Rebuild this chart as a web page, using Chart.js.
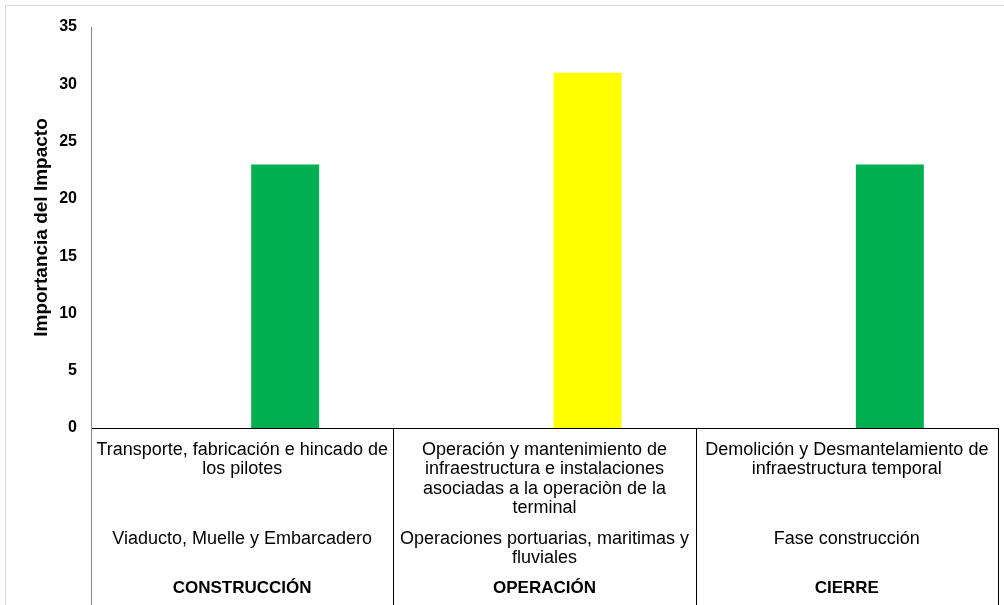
<!DOCTYPE html>
<html lang="es">
<head>
<meta charset="utf-8">
<title>Importancia del Impacto</title>
<script src="https://cdn.jsdelivr.net/npm/chart.js@4.4.1/dist/chart.umd.min.js"></script>
<style>
  html, body { margin: 0; padding: 0; background: #fff; }
  #chart { display: block; }
</style>
</head>
<body>
<canvas id="chart" width="1004" height="605"></canvas>
<script>
// Activities (first row under the axis), one array of lines per bar
const activityLabels = [
  ['Transporte, fabricación e hincado de', 'los pilotes'],
  ['Operación y mantenimiento de', 'infraestructura e instalaciones', 'asociadas a la operaciòn de la', 'terminal'],
  ['Demolición y Desmantelamiento de', 'infraestructura temporal']
];

// Components (second row)
const componentLabels = [
  'Viaducto, Muelle y Embarcadero',
  ['Operaciones portuarias, maritimas y', 'fluviales'],
  'Fase construcción'
];

// Phases (third row)
const phaseLabels = ['CONSTRUCCIÓN', 'OPERACIÓN', 'CIERRE'];

// Importancia del impacto
const impactValues = [23, 31, 23];
// the original has an empty first series, which is why bars sit right of centre
const emptySeries = [null, null, null];
const barColors = ['#00B050', '#FFFF00', '#00B050'];

const yMin = 0;
const yMax = 35;
const yStep = 5;

const fontFamily = "'Liberation Sans', Arial, sans-serif";

// light frame round the chart
const chartFrame = {
  id: 'chartFrame',
  beforeDraw(chart) {
    const ctx = chart.ctx;
    ctx.save();
    ctx.strokeStyle = '#d9d9d9';
    ctx.lineWidth = 1;
    ctx.strokeRect(5.5, 5.5, chart.width + 20, chart.height + 20);
    ctx.restore();
  }
};

// vertical lines between the categories, below the axis
const categoryLines = {
  id: 'categoryLines',
  afterDraw(chart) {
    const x = chart.scales.x;
    const ctx = chart.ctx;
    const top = chart.chartArea.bottom;
    const edges = [x.left];
    for (let i = 1; i < x.ticks.length; i++) {
      edges.push((x.getPixelForValue(i - 1) + x.getPixelForValue(i)) / 2);
    }
    edges.push(x.right);
    ctx.save();
    ctx.lineWidth = 1;
    edges.forEach((px, i) => {
      ctx.strokeStyle = i === 0 ? '#868686' : '#000';
      ctx.beginPath();
      ctx.moveTo(Math.round(px) + 0.5, top);
      ctx.lineTo(Math.round(px) + 0.5, chart.height);
      ctx.stroke();
    });
    ctx.restore();
  }
};

new Chart(document.getElementById('chart'), {
  type: 'bar',
  data: {
    labels: activityLabels,
    datasets: [
      {
        label: 'Serie 1',
        data: emptySeries,
        backgroundColor: barColors,
        categoryPercentage: 0.569,
        barPercentage: 0.79
      },
      {
        label: 'Importancia del Impacto',
        data: impactValues,
        backgroundColor: barColors,
        categoryPercentage: 0.569,
        barPercentage: 0.79
      }
    ]
  },
  options: {
    responsive: false,
    animation: false,
    layout: { padding: { left: 20, top: 27, right: 6, bottom: 0 } },
    plugins: {
      legend: { display: false },
      tooltip: { enabled: false }
    },
    scales: {
      y: {
        min: yMin,
        max: yMax,
        ticks: {
          stepSize: yStep,
          color: '#000',
          font: { family: fontFamily, size: 16, weight: 'bold' },
          padding: 14
        },
        grid: { display: false, drawTicks: false },
        border: { display: true, color: '#868686', width: 1 },
        title: {
          display: true,
          text: 'Importancia del Impacto',
          color: '#000',
          font: { family: fontFamily, size: 19, weight: 'bold' },
          padding: { top: 10, bottom: 0 }
        },
        afterFit: s => { s.width = 71; }
      },
      x: {
        type: 'category',
        position: 'bottom',
        weight: 0,
        offset: true,
        grid: { display: false, drawTicks: false },
        border: { display: true, color: '#000', width: 1 },
        ticks: {
          color: '#000',
          font: { family: fontFamily, size: 18, lineHeight: 1.08 },
          padding: 12,
          autoSkip: false,
          maxRotation: 0,
          minRotation: 0
        },
        afterFit: s => { s.height = 100; }
      },
      x2: {
        type: 'category',
        labels: componentLabels,
        position: 'bottom',
        weight: 1,
        offset: true,
        grid: { display: false, drawTicks: false },
        border: { display: false },
        ticks: {
          color: '#000',
          font: { family: fontFamily, size: 18, lineHeight: 1.07 },
          padding: 1,
          autoSkip: false,
          maxRotation: 0,
          minRotation: 0
        },
        afterFit: s => { s.height = 48; }
      },
      x3: {
        type: 'category',
        labels: phaseLabels,
        position: 'bottom',
        weight: 2,
        offset: true,
        grid: { display: false, drawTicks: false },
        border: { display: false },
        ticks: {
          color: '#000',
          font: { family: fontFamily, size: 17, weight: 'bold' },
          padding: 2,
          autoSkip: false,
          maxRotation: 0,
          minRotation: 0
        },
        afterFit: s => { s.height = 29; }
      }
    }
  },
  plugins: [chartFrame, categoryLines]
});
</script>
</body>
</html>
